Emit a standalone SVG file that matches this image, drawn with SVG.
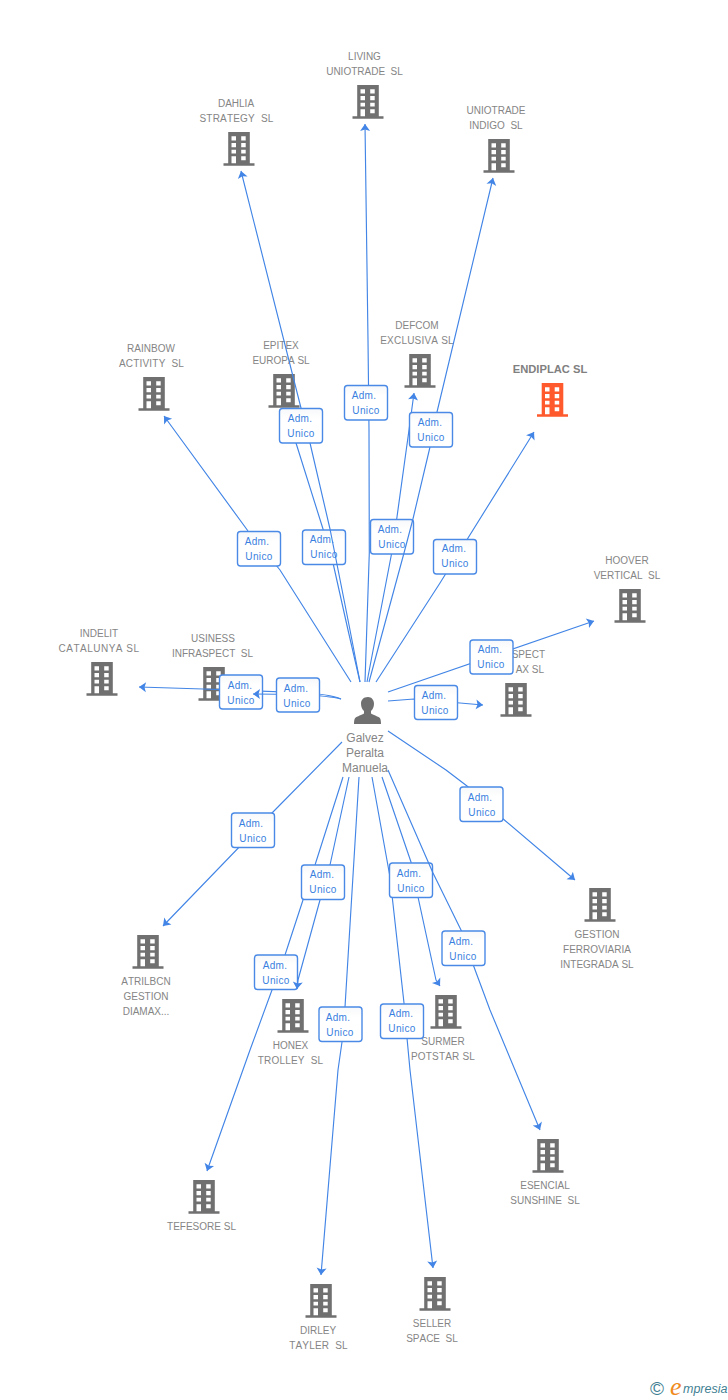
<svg xmlns="http://www.w3.org/2000/svg" width="728" height="1400" viewBox="0 0 728 1400">
<style>
text{font-family:"Liberation Sans",Arial,sans-serif;font-kerning:none}
.lbl{font-size:10px;fill:#858585;text-anchor:middle;white-space:pre}
.w{letter-spacing:.2px}
.ww{letter-spacing:.5px}
.main{font-size:11.2px;font-weight:bold;fill:#808080;text-anchor:middle}
.per{font-size:12px;fill:#858585;text-anchor:middle}
.b{fill:#707070}
.o{fill:#ff5a2d}
.c{fill:none;stroke:#4285e6;stroke-width:1.15;stroke-linejoin:round;marker-end:url(#a)}
.box{fill:url(#g);stroke:#4a8ae6;stroke-width:1.4}
.bt{font-size:10px;letter-spacing:.35px;fill:#3a7fe0;text-anchor:middle}
</style>
<defs>
<linearGradient id="g" x1="0" y1="0" x2="0" y2="1"><stop offset="0" stop-color="#f7f8fa"/><stop offset=".3" stop-color="#ffffff"/><stop offset="1" stop-color="#ffffff"/></linearGradient>
<marker id="a" markerUnits="userSpaceOnUse" markerWidth="12" markerHeight="12" viewBox="0 0 12 12" refX="10.500" refY="6" orient="auto"><path d="M3.500 1L10.500 6L3.500 11L5 6Z" fill="#4285e6"/></marker>
<symbol id="bld" width="31" height="34" viewBox="0 0 31 34" overflow="visible"><path fill-rule="evenodd" d="M4.700 0H26.300V31.300H31V33.800H0V31.300H4.700ZM8 4.300V8.600H12.500V4.300ZM17.700 4.300V8.600H22.200V4.300ZM8 11V15.300H12.500V11ZM17.700 11V15.300H22.200V11ZM8 17.700V21.500H12.500V17.700ZM17.700 17.700V21.500H22.200V17.700ZM8 24.300V31.300H12.500V24.300ZM17.700 24.300V28.300H22.200V24.300Z"/></symbol>
</defs>

<g id="node-living" class="b"><use href="#bld" x="352.500" y="85"/><text class="lbl" x="364.500" y="60">LIVING</text><text class="lbl" x="364.500" y="75">UNIOTRADE  SL</text></g>
<g id="node-dahlia" class="b"><use href="#bld" x="223.500" y="132"/><text class="lbl" x="236" y="107">DAHLIA</text><text class="lbl w" x="236.500" y="122">STRATEGY  SL</text></g>
<g id="node-uniotrade" class="b"><use href="#bld" x="483.500" y="139"/><text class="lbl" x="496" y="114">UNIOTRADE</text><text class="lbl" x="496" y="129">INDIGO  SL</text></g>
<g id="node-rainbow" class="b"><use href="#bld" x="138.500" y="377"/><text class="lbl" x="151" y="352">RAINBOW</text><text class="lbl w" x="151.500" y="367">ACTIVITY  SL</text></g>
<g id="node-epitex" class="b"><use href="#bld" x="268.500" y="374"/><text class="lbl" x="281" y="349">EPITEX</text><text class="lbl" x="281" y="364">EUROPA SL</text></g>
<g id="node-defcom" class="b"><use href="#bld" x="404.500" y="354"/><text class="lbl" x="417" y="329">DEFCOM</text><text class="lbl w" x="417" y="344">EXCLUSIVA SL</text></g>
<g id="node-endiplac" class="o"><use href="#bld" x="537" y="383"/><text class="main" x="550" y="373">ENDIPLAC SL</text></g>
<g id="node-hoover" class="b"><use href="#bld" x="614.500" y="589"/><text class="lbl" x="627" y="564">HOOVER</text><text class="lbl" x="627" y="579">VERTICAL  SL</text></g>
<g id="node-indelit" class="b"><use href="#bld" x="86.500" y="662"/><text class="lbl" x="99" y="637">INDELIT</text><text class="lbl ww" x="99" y="652">CATALUNYA SL</text></g>
<g id="node-usiness" class="b"><use href="#bld" x="198.500" y="667"/><text class="lbl" x="213" y="642">USINESS</text><text class="lbl" x="212.500" y="657">INFRASPECT  SL</text></g>
<g id="node-spect" class="b"><use href="#bld" x="500.500" y="683"/><text class="lbl" x="545" y="658" style="text-anchor:end">SPECT</text><text class="lbl" x="544" y="673" style="text-anchor:end">AX SL</text></g>
<g id="node-gestion" class="b"><use href="#bld" x="584.500" y="888"/><text class="lbl" x="597" y="938">GESTION</text><text class="lbl" x="597" y="953">FERROVIARIA</text><text class="lbl" x="597" y="968">INTEGRADA SL</text></g>
<g id="node-atrilbcn" class="b"><use href="#bld" x="132.500" y="935"/><text class="lbl" x="146" y="985">ATRILBCN</text><text class="lbl" x="146" y="1000">GESTION</text><text class="lbl" x="146" y="1015">DIAMAX...</text></g>
<g id="node-honex" class="b"><use href="#bld" x="277.500" y="999"/><text class="lbl" x="290.500" y="1049">HONEX</text><text class="lbl w" x="290.500" y="1064">TROLLEY  SL</text></g>
<g id="node-surmer" class="b"><use href="#bld" x="430.500" y="995"/><text class="lbl" x="443" y="1045">SURMER</text><text class="lbl w" x="443" y="1060">POTSTAR SL</text></g>
<g id="node-esencial" class="b"><use href="#bld" x="532.500" y="1139"/><text class="lbl" x="545" y="1189">ESENCIAL</text><text class="lbl" x="545" y="1204">SUNSHINE  SL</text></g>
<g id="node-tefesore" class="b"><use href="#bld" x="188.500" y="1180"/><text class="lbl" x="201.500" y="1230">TEFESORE SL</text></g>
<g id="node-dirley" class="b"><use href="#bld" x="305.500" y="1284"/><text class="lbl" x="318" y="1334">DIRLEY</text><text class="lbl w" x="318.500" y="1349">TAYLER  SL</text></g>
<g id="node-seller" class="b"><use href="#bld" x="419.500" y="1277"/><text class="lbl" x="432" y="1327">SELLER</text><text class="lbl" x="432" y="1342">SPACE  SL</text></g>

<g id="node-person"><path class="b" d="M368 697c3.600 0 6 2.800 6 6.800 0 3-1.300 5.800-3 7.300v2.200c0 1 5.500 2.600 8 3.900 1.700.9 2 3.300 2 6.800H354c0-3.500.3-5.900 2-6.800 2.500-1.300 8-2.900 8-3.900v-2.200c-1.700-1.500-3-4.300-3-7.300 0-4 2.400-6.800 7-6.800Z"/><text class="per" x="365" y="742">Galvez</text><text class="per" x="365" y="757">Peralta</text><text class="per" x="365" y="772">Manuela</text></g>

<g id="connectors">
<g><path class="c" d="M360 682L348 630L333 563L322.700 528L296 443L289 418"/><rect class="box" x="302.500" y="530" width="43" height="34.500" rx="3"/><text class="bt" x="322" y="543">Adm.</text><text class="bt" x="324" y="558">Unico</text></g>
<g><path class="c" d="M360 682L350 630L330 529L310 443L301 408L241 171"/><rect class="box" x="279.500" y="408.500" width="43" height="34.500" rx="3"/><text class="bt" x="300" y="422">Adm.</text><text class="bt" x="301" y="437">Unico</text></g>
<g><path class="c" d="M365 682L369.300 553L369 430L368 340L365 124"/><rect class="box" x="344.500" y="385.500" width="43" height="34.500" rx="3"/><text class="bt" x="364" y="399">Adm.</text><text class="bt" x="366" y="414">Unico</text></g>
<g><path class="c" d="M367 682L391.700 553L396.700 519L409 430L414 393"/><rect class="box" x="370.500" y="519.500" width="43" height="34.500" rx="3"/><text class="bt" x="390" y="533">Adm.</text><text class="bt" x="392" y="548">Unico</text></g>
<g><path class="c" d="M369 682L404 553L412.700 520L430 447L437 412L493 178"/><rect class="box" x="409.500" y="412.500" width="43" height="34.500" rx="3"/><text class="bt" x="430" y="426">Adm.</text><text class="bt" x="431" y="441">Unico</text></g>
<g><path class="c" d="M351 682L280 570L248 531L164 416"/><rect class="box" x="237.500" y="531.500" width="43" height="34.500" rx="3"/><text class="bt" x="257" y="545">Adm.</text><text class="bt" x="259" y="560">Unico</text></g>
<g><path class="c" d="M376 682L440 583L534 432"/><rect class="box" x="433.500" y="539.500" width="43" height="34.500" rx="3"/><text class="bt" x="454" y="552">Adm.</text><text class="bt" x="455" y="567">Unico</text></g>
<g><path class="c" d="M388 692L594 621"/><rect class="box" x="470" y="640" width="43" height="34" rx="3"/><text class="bt" x="490" y="653">Adm.</text><text class="bt" x="491" y="668">Unico</text></g>
<g><path class="c" d="M388 701L414 699L483 705"/><rect class="box" x="414.500" y="685.500" width="43" height="34" rx="3"/><text class="bt" x="434" y="699">Adm.</text><text class="bt" x="435" y="714">Unico</text></g>
<g><path class="c" d="M341 699Q330 694 298 692.500L219 689.500L139 687"/><rect class="box" x="219.500" y="675" width="43" height="34" rx="3"/><text class="bt" x="240" y="689">Adm.</text><text class="bt" x="241" y="704">Unico</text></g>
<g><path class="c" d="M341 699Q330 696 298 694.500L253 694"/><rect class="box" x="276.500" y="678" width="43" height="34" rx="3"/><text class="bt" x="296" y="692">Adm.</text><text class="bt" x="297" y="707">Unico</text></g>
<g><path class="c" d="M342 742L272 813L163 926"/><rect class="box" x="231.500" y="813" width="43" height="34.500" rx="3"/><text class="bt" x="251" y="827">Adm.</text><text class="bt" x="253" y="842">Unico</text></g>
<g><path class="c" d="M388 731L446 770L467 786L502 818L575 880"/><rect class="box" x="460" y="787" width="43" height="34.500" rx="3"/><text class="bt" x="480" y="801">Adm.</text><text class="bt" x="482" y="816">Unico</text></g>
<g><path class="c" d="M343 777L315 865L303 900L285 955L272 990L250 1050L207 1171"/><rect class="box" x="254.500" y="955" width="43" height="34.500" rx="3"/><text class="bt" x="275" y="969">Adm.</text><text class="bt" x="276" y="984">Unico</text></g>
<g><path class="c" d="M349 777L330 865L320 900L298 980L297 989"/><rect class="box" x="301.500" y="865" width="43" height="34.500" rx="3"/><text class="bt" x="322" y="878">Adm.</text><text class="bt" x="323" y="893">Unico</text></g>
<g><path class="c" d="M359 777L345 1007L342 1042L338 1070L321 1275"/><rect class="box" x="319" y="1007" width="43" height="34.500" rx="3"/><text class="bt" x="338" y="1021">Adm.</text><text class="bt" x="340" y="1036">Unico</text></g>
<g><path class="c" d="M372 777L390 877L404 1003L407 1038L410 1070L433 1268"/><rect class="box" x="380.500" y="1004" width="43" height="34.500" rx="3"/><text class="bt" x="401" y="1017">Adm.</text><text class="bt" x="402" y="1032">Unico</text></g>
<g><path class="c" d="M382 777L411 862L418 897L436 980L440 986"/><rect class="box" x="389.500" y="863" width="43" height="34.500" rx="3"/><text class="bt" x="409" y="877">Adm.</text><text class="bt" x="411" y="892">Unico</text></g>
<g><path class="c" d="M388 770L433 873L461 930L474 967L490 1010L540 1130"/><rect class="box" x="442" y="931" width="43" height="34.500" rx="3"/><text class="bt" x="461" y="945">Adm.</text><text class="bt" x="463" y="960">Unico</text></g>
</g>

<g id="logo"><text x="650" y="1395" style="font-size:19px;fill:#3f7f93">©</text><text x="670" y="1395" style="font-family:'Liberation Serif',serif;font-size:26px;font-style:italic;fill:#f08a1d">e</text><text x="683" y="1393" style="font-size:12.500px;font-style:italic;fill:#3f7f93">mpresia</text></g>
</svg>
